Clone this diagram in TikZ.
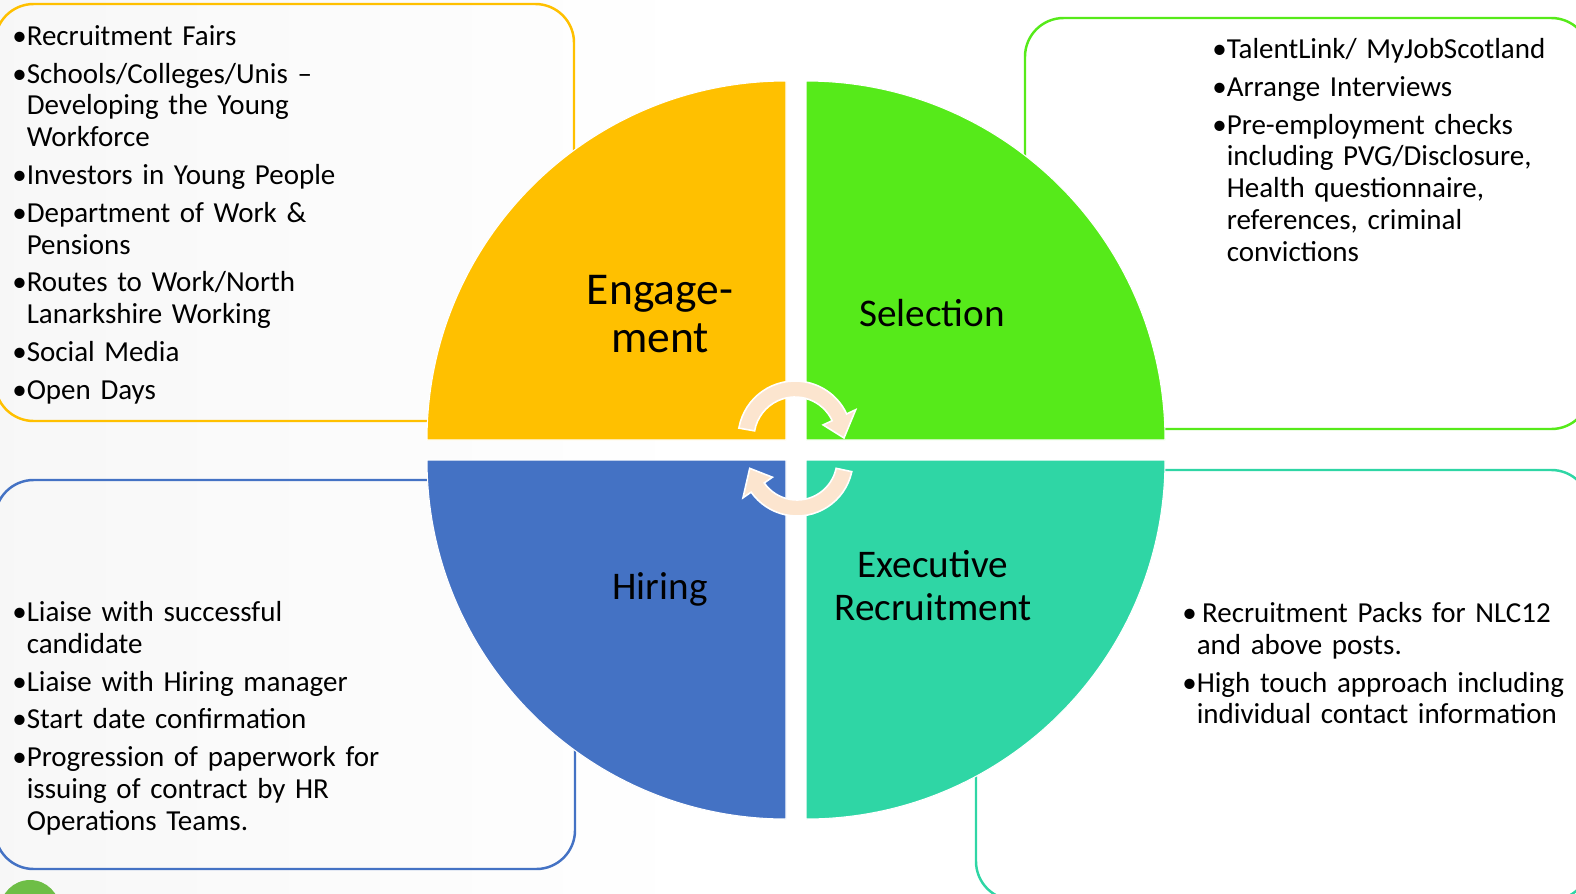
\documentclass[tikz,border=0pt]{standalone}
\usepackage{fontspec}
\setmainfont{Carlito}
\usetikzlibrary{positioning}

\definecolor{engageorange}{RGB}{255,192,0}
\definecolor{selectgreen}{RGB}{86,234,26}
\definecolor{hireblue}{RGB}{68,114,196}
\definecolor{execteal}{RGB}{47,214,165}
\definecolor{turnpeach}{RGB}{252,229,207}
\definecolor{logogreen}{RGB}{110,190,70}

% bullet item with hanging indent
\newcommand\bul[1]{\setbox0=\hbox{•}\hangindent=\wd0 \hangafter=1 \noindent\box0\relax#1\par}

\begin{document}
\begin{tikzpicture}[
  x=0.02cm, y=-0.02cm,
  frame/.style={line width=1.4pt, rounded corners=22pt},
  slice/.style={draw=white, line width=0.6pt},
  turnarrow/.style={fill=turnpeach, draw=white, line width=0.9pt},
  qlabel/.style={inner sep=0pt, align=center, font=\fontsize{22.3}{24.4}\selectfont},
  list/.style={anchor=north west, inner sep=0pt, text width=8cm, align=left,
    font=\fontsize{16.5}{18.1}\selectfont\setlength\parskip{3.4pt}}
]
\useasboundingbox (0,0) rectangle (1576,893);
\fill[left color=black!3, right color=white] (0,0) rectangle (700,893);
\fill[logogreen] (30,910) circle[radius=30];

% outlined boxes behind the quarters
\draw[frame, engageorange] (-5,4) rectangle (574,421);
\draw[frame, selectgreen] (1025,18) rectangle (1590,429);
\draw[frame, execteal] (976,470) rectangle (1590,900);
\draw[frame, hireblue] (-5,480) rectangle (575,869);

% the four quarters
\filldraw[slice, fill=engageorange] (786,440) -- ++(180:359) arc[start angle=180, end angle=270, radius=359] -- cycle;
\filldraw[slice, fill=selectgreen] (806,440) -- ++(270:359) arc[start angle=270, end angle=360, radius=359] -- cycle;
\filldraw[slice, fill=execteal] (806,460) -- ++(0:359) arc[start angle=0, end angle=90, radius=359] -- cycle;
\filldraw[slice, fill=hireblue] (786,460) -- ++(90:359) arc[start angle=90, end angle=180, radius=359] -- cycle;

\node[qlabel, font=\fontsize{25.9}{27.2}\selectfont] (engage) at (660,314) {Engage-\\ment};
\node[qlabel] (select) at (932,313) {Selection};
\node[qlabel] (hire) at (660,589) {Hiring};
\node[qlabel] (exec) at (933,586) {Executive\\Recruitment};

% turning arrows in the middle
\begin{scope}[shift={(795,438)}]
  \filldraw[turnarrow] (190:57) arc[start angle=190, end angle=335, radius=57]
    -- (335:67) -- (0:49) -- (335:31) -- (335:41)
    arc[start angle=335, end angle=190, radius=41] -- cycle;
\end{scope}
\begin{scope}[shift={(797,460)}]
  \filldraw[turnarrow] (12:56) arc[start angle=12, end angle=145, radius=56]
    -- (145:66) -- (170:48) -- (145:30) -- (145:40)
    arc[start angle=145, end angle=12, radius=40] -- cycle;
\end{scope}

\node[list] (engageList) at (12,25) {%
  \bul{Recruitment Fairs}
  \bul{Schools/Colleges/Unis –\newline Developing the Young\newline Workforce}
  \bul{Investors in Young People}
  \bul{Department of Work \&\newline Pensions}
  \bul{Routes to Work/North\newline Lanarkshire Working}
  \bul{Social Media}
  \bul{Open Days}};

\node[list] (selectList) at (1212,38) {%
  \bul{TalentLink/ MyJobScotland}
  \bul{Arrange Interviews}
  \bul{Pre-employment checks\newline including PVG/Disclosure,\newline Health questionnaire,\newline references, criminal\newline convictions}};

\node[list] (hireList) at (12,601) {%
  \bul{Liaise with successful\newline candidate}
  \bul{Liaise with Hiring manager}
  \bul{Start date confirmation}
  \bul{Progression of paperwork for\newline issuing of contract by HR\newline Operations Teams.}};

\node[list] (execList) at (1182,602) {%
  \bul{\hspace{3pt}Recruitment Packs for NLC12\newline and above posts.}
  \bul{High touch approach including\newline individual contact information}};
\end{tikzpicture}
\end{document}
